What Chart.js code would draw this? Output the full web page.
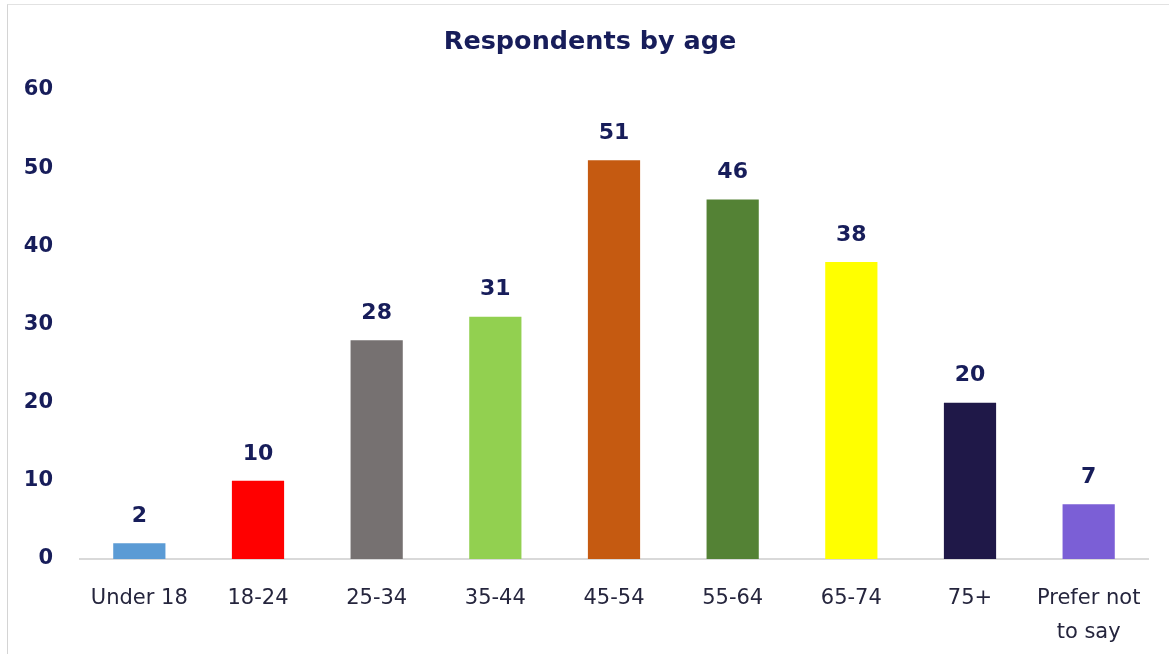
<!DOCTYPE html>
<html>
<head>
<meta charset="utf-8">
<script src="https://cdn.jsdelivr.net/npm/chart.js@4.4.1/dist/chart.umd.min.js"></script>
<style>
    body { margin: 0; background: #fff; }
    .frame {
        position: absolute; left: 7px; top: 4px; width: 1170px; height: 660px;
        border-left: 1px solid #d4d4d4; border-top: 1px solid #e2e2e2;
    }
    .wrap { position: absolute; left: 0; top: 0; width: 1169px; height: 654px; }
</style>
</head>
<body>
<div class="frame"></div>
<div class="wrap"><canvas id="ageChart"></canvas></div>
<script>
// Chart data
const chartTitle = 'Respondents by age';
const categories = ['Under 18', '18-24', '25-34', '35-44', '45-54', '55-64', '65-74', '75+', ['Prefer not', 'to say']];
const respondents = [2, 10, 28, 31, 51, 46, 38, 20, 7];
const barColors = ['#5b9bd5', '#ff0000', '#767171', '#92d050', '#c55a11', '#548235', '#ffff00', '#1f1848', '#7b5fd6'];
const yTicks = [0, 10, 20, 30, 40, 50, 60];

const navy = '#171d5a';

// Value labels above each bar
const valueLabels = {
    id: 'valueLabels',
    afterDatasetsDraw(chart) {
        const ctx = chart.ctx;
        const meta = chart.getDatasetMeta(0);
        ctx.save();
        ctx.font = 'bold 22px "DejaVu Sans"';
        ctx.fillStyle = navy;
        ctx.textAlign = 'center';
        ctx.textBaseline = 'middle';
        meta.data.forEach((bar, i) => {
            ctx.fillText(String(respondents[i]), bar.x, bar.y - 27);
        });
        ctx.restore();
    }
};

// Title sits a little left of the plot centre, like the original
const titleText = {
    id: 'titleText',
    afterDraw(chart) {
        const ctx = chart.ctx;
        const area = chart.chartArea;
        ctx.save();
        ctx.font = 'bold 25.5px "DejaVu Sans"';
        ctx.fillStyle = navy;
        ctx.textAlign = 'center';
        ctx.textBaseline = 'middle';
        ctx.fillText(chartTitle, (area.left + area.right) / 2 - 24, 42);
        ctx.restore();
    }
};

new Chart(document.getElementById('ageChart'), {
    type: 'bar',
    data: {
        labels: categories,
        datasets: [{
            data: respondents,
            backgroundColor: barColors,
            borderWidth: 0,
            barPercentage: 0.44,
            categoryPercentage: 1
        }]
    },
    options: {
        responsive: true,
        maintainAspectRatio: false,
        animation: false,
        layout: { padding: { left: 0, right: 21, top: 90, bottom: 0 } },
        plugins: {
            legend: { display: false },
            tooltip: { enabled: false },
            title: { display: false }
        },
        scales: {
            x: {
                grid: { display: false, drawTicks: false },
                border: { display: true, color: '#d9d9d9', width: 2 },
                ticks: {
                    color: '#25253d',
                    font: { family: 'DejaVu Sans', size: 21, lineHeight: 1.65 },
                    padding: 22,
                    maxRotation: 0,
                    autoSkip: false
                },
                afterFit(scale) { scale.height = 95; }
            },
            y: {
                min: 0,
                max: 60,
                afterBuildTicks(scale) { scale.ticks = yTicks.map(v => ({ value: v })); },
                grid: { display: false, drawTicks: false },
                border: { display: false },
                ticks: {
                    color: navy,
                    font: { family: 'DejaVu Sans', size: 21, weight: 'bold' },
                    padding: 27
                },
                afterFit(scale) { scale.width = 80; }
            }
        }
    },
    plugins: [valueLabels, titleText]
});
</script>
</body>
</html>
